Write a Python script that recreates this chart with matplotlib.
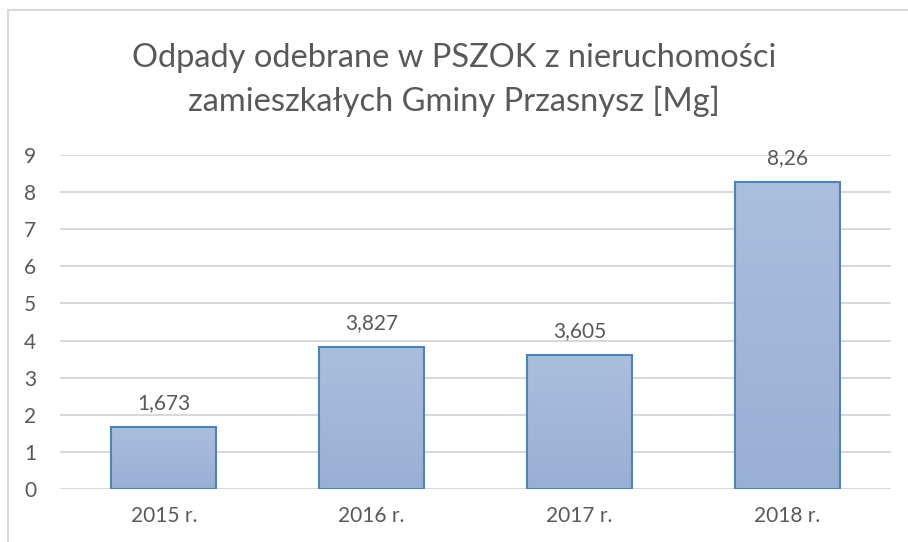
import numpy as np
import matplotlib.pyplot as plt
from matplotlib.colors import LinearSegmentedColormap
from matplotlib.lines import Line2D

# dane
lata = ["2015 r.", "2016 r.", "2017 r.", "2018 r."]
odpady = [1.673, 3.827, 3.605, 8.26]
etykiety = ["1,673", "3,827", "3,605", "8,26"]

plt.rcParams["font.family"] = ["Lato", "DejaVu Sans"]
szary = "#595959"

fig = plt.figure(figsize=(9.08, 5.42), dpi=100)
ax = fig.add_axes([60 / 908, 53 / 542, 831 / 908, 334 / 542])

# gradient wypełnienia słupków
cmap = LinearSegmentedColormap.from_list("grad", ["#9AAFD4", "#AABEDD"])
grad = np.linspace(0, 1, 256).reshape(-1, 1)

x = np.arange(len(lata))
bars = ax.bar(x, odpady, width=0.506, color="none", edgecolor="#4F81BD",
              linewidth=1.5, zorder=3)
for b in bars:
    im = ax.imshow(grad, cmap=cmap, aspect="auto", origin="lower",
                   extent=[b.get_x(), b.get_x() + b.get_width(), 0, b.get_height()],
                   zorder=2)
    im.set_clip_path(b)

for xi, v, t in zip(x, odpady, etykiety):
    ax.annotate(t, (xi, v), xytext=(0, 10), textcoords="offset points",
                ha="center", va="bottom", fontsize=15, color=szary)

ax.set_xlim(-0.5, 3.5)
ax.set_ylim(0, 9)
ax.set_yticks(range(0, 10))
ax.set_xticks(x)
ax.set_xticklabels(lata)
ax.tick_params(axis="both", length=0, labelsize=15, labelcolor=szary)
ax.tick_params(axis="y", pad=17)
ax.tick_params(axis="x", pad=12)
ax.grid(axis="y", color="#D9D9D9", linewidth=1.5, zorder=0)
ax.set_axisbelow(True)
for s in ax.spines.values():
    s.set_visible(False)

fig.text(0.5, 1 - 58 / 542, "Odpady odebrane w PSZOK z nieruchomości",
         ha="center", va="center", fontsize=23.5, color=szary)
fig.text(0.5, 1 - 101 / 542, "zamieszkałych Gminy Przasnysz [Mg]",
         ha="center", va="center", fontsize=23.5, color=szary)

# ramka wykresu
fig.add_artist(Line2D([8 / 908, 8 / 908], [0, 1 - 10 / 542], color="#D9D9D9",
                      linewidth=1.5, transform=fig.transFigure))
fig.add_artist(Line2D([8 / 908, 1], [1 - 10 / 542, 1 - 10 / 542], color="#D9D9D9",
                      linewidth=1.5, transform=fig.transFigure))

fig.savefig("out.png", dpi=100)
